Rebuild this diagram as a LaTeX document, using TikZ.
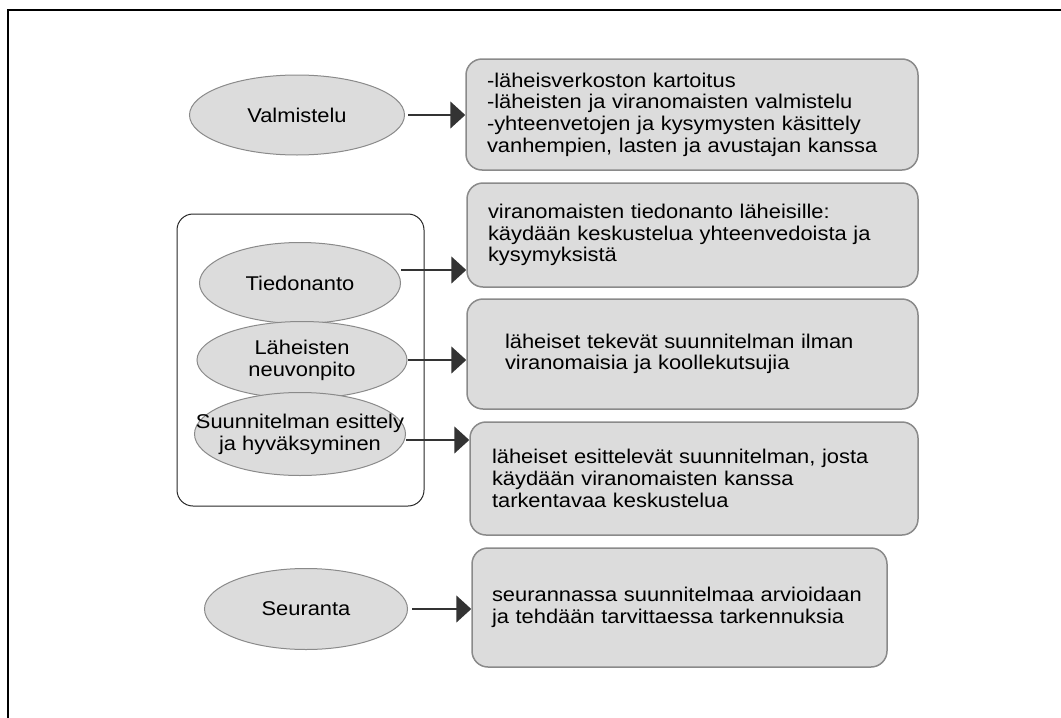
\documentclass[tikz,border=0pt]{standalone}
\usepackage{fontspec}
\setmainfont{Liberation Sans}[FakeStretch=1.1]
\usetikzlibrary{shapes.geometric,arrows.meta}
\definecolor{shade}{HTML}{DCDCDC}
\definecolor{rim}{HTML}{8A8A8A}

\begin{document}
\begin{tikzpicture}[x=1pt, y=-1pt, font=\fontsize{19.9}{21.7}\selectfont,
  phase node/.style={ellipse, draw=rim, fill=shade, line width=1pt, inner sep=0pt, align=center},
  text box/.style={draw=rim, fill=shade, line width=1.5pt, rounded corners=16pt, inner ysep=0pt, align=left},
  group box/.style={draw=black!85, line width=1pt, rounded corners=16pt},
  flow/.style={black!80, line width=1.5pt, -{Triangle[length=15pt,width=27pt]}}]
\useasboundingbox (0,0) rectangle (1061,718);
\draw[line width=2pt] (8,718) -- (8,10) -- (1061,10);

\node[phase node, minimum width=215pt, minimum height=80pt] (valmistelu) at (297,115) {Valmistelu};
\node[group box, minimum width=247pt, minimum height=292pt]  (group)      at (300.5,360) {};
\node[phase node, minimum width=201pt, minimum height=81pt] (tiedonanto) at (300,283) {Tiedonanto};
\node[phase node, minimum width=210pt, minimum height=77pt] (neuvonpito) at (302,360) {Läheisten\\neuvonpito};
\node[phase node, minimum width=211pt, minimum height=83pt, inner xsep=-60pt] (esittely) at (300,434) {Suunnitelman esittely\\ja hyväksyminen};
\node[phase node, minimum width=203pt, minimum height=81pt] (seuranta)   at (306,609) {Seuranta};

\node[text box, inner xsep=21pt, text width=410pt, minimum height=111pt] (box1) at (692,114.5)
  {-läheisverkoston kartoitus\\-läheisten ja viranomaisten valmistelu\\-yhteenvetojen ja kysymysten käsittely\\vanhempien, lasten ja avustajan kanssa};
\node[text box, inner xsep=21pt, text width=409pt, minimum height=104pt] (box2) at (692.5,235)
  {viranomaisten tiedonanto läheisille:\\käydään keskustelua yhteenvedoista ja\\kysymyksistä};
\node[text box, inner xsep=38pt, text width=375pt, minimum height=110pt] (box3) at (692.5,354)
  {läheiset tekevät suunnitelman ilman\\viranomaisia ja koollekutsujia};
\node[text box, inner xsep=22pt, text width=404pt, minimum height=113pt] (box4) at (694,478.5)
  {läheiset esittelevät suunnitelman, josta\\käydään viranomaisten kanssa\\tarkentavaa keskustelua};
\node[text box, inner xsep=20pt, text width=375pt, minimum height=119pt] (box5) at (679.5,607.5)
  {seurannassa suunnitelmaa arvioidaan\\ja tehdään tarvittaessa tarkennuksia};

\coordinate (start1) at ([xshift=3pt]valmistelu.east);
\coordinate (start2) at ([yshift=13pt]tiedonanto.east);
\coordinate (start4) at ([yshift=-6pt]esittely.east);
\coordinate (start5) at ([xshift=4pt]seuranta.east);
\path[flow]
(start1)          edge (start1 -| box1.west)
(start2)          edge (start2 -| box2.west)
(neuvonpito.east) edge (neuvonpito.east -| box3.west)
(start4)          edge (start4 -| box4.west)
(start5)          edge (start5 -| box5.west)
;
\end{tikzpicture}
\end{document}
